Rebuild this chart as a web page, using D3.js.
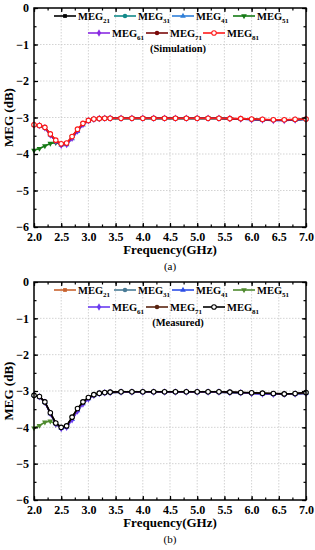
<!DOCTYPE html>
<html>
<head>
<meta charset="utf-8">
<script src="https://cdn.jsdelivr.net/npm/d3@7"></script>
<style>
  body { margin: 0; background: #fff; }
  svg { display: block; font-family: "Liberation Serif", "Times New Roman", serif; font-weight: bold; }
</style>
</head>
<body>
<svg id="chart" width="315" height="550"></svg>
<script>
//
// Data
//

var freq = [2.0, 2.1, 2.2, 2.3, 2.4, 2.5, 2.6, 2.7, 2.8, 2.9, 3.0, 3.1, 3.2, 3.3, 3.4,
  3.6, 3.8, 4.0, 4.2, 4.4, 4.6, 4.8, 5.0, 5.2, 5.4, 5.6, 5.8, 6.0, 6.2, 6.4, 6.6, 6.8, 7.0]
var names = ['21', '31', '41', '51', '61', '71', '81']
var xTicks = [2.0, 2.5, 3.0, 3.5, 4.0, 4.5, 5.0, 5.5, 6.0, 6.5, 7.0]
var yTicks = [0, -1, -2, -3, -4, -5, -6]

// (a) simulation
var simMeg21 = [-3.21, -3.23, -3.28, -3.47, -3.64, -3.74, -3.72, -3.55, -3.35, -3.18, -3.09, -3.05, -3.04, -3.03, -3.03,
  -3.03, -3.03, -3.03, -3.03, -3.03, -3.03, -3.03, -3.03, -3.03, -3.03, -3.03, -3.04, -3.05, -3.06, -3.07, -3.07, -3.06, -3.05]
var simMeg31 = [-3.20, -3.22, -3.27, -3.46, -3.63, -3.73, -3.71, -3.54, -3.34, -3.17, -3.08, -3.04, -3.03, -3.02, -3.02,
  -3.02, -3.02, -3.02, -3.02, -3.02, -3.02, -3.02, -3.02, -3.02, -3.02, -3.03, -3.04, -3.05, -3.06, -3.07, -3.07, -3.06, -3.05]
var simMeg41 = [-3.20, -3.22, -3.28, -3.47, -3.65, -3.75, -3.74, -3.58, -3.38, -3.20, -3.10, -3.05, -3.03, -3.02, -3.02,
  -3.02, -3.02, -3.02, -3.02, -3.02, -3.02, -3.02, -3.02, -3.02, -3.02, -3.03, -3.04, -3.06, -3.07, -3.08, -3.08, -3.07, -3.05]
var simMeg51 = [-3.90, -3.85, -3.78, -3.71, -3.69, -3.73, -3.71, -3.54, -3.34, -3.17, -3.08, -3.04, -3.03, -3.02, -3.02,
  -3.02, -3.02, -3.02, -3.02, -3.02, -3.02, -3.02, -3.02, -3.02, -3.02, -3.03, -3.04, -3.05, -3.06, -3.07, -3.07, -3.06, -3.05]
var simMeg61 = [-3.20, -3.22, -3.28, -3.48, -3.65, -3.76, -3.74, -3.57, -3.37, -3.19, -3.09, -3.05, -3.03, -3.02, -3.02,
  -3.02, -3.02, -3.02, -3.02, -3.02, -3.02, -3.02, -3.02, -3.02, -3.02, -3.03, -3.04, -3.06, -3.07, -3.08, -3.08, -3.07, -3.05]
var simMeg71 = [-3.20, -3.22, -3.27, -3.46, -3.63, -3.73, -3.71, -3.53, -3.33, -3.17, -3.08, -3.04, -3.03, -3.02, -3.02,
  -3.02, -3.02, -3.02, -3.02, -3.02, -3.02, -3.02, -3.02, -3.02, -3.02, -3.03, -3.04, -3.05, -3.06, -3.07, -3.07, -3.06, -3.04]
var simMeg81 = [-3.20, -3.22, -3.27, -3.45, -3.62, -3.72, -3.70, -3.52, -3.32, -3.16, -3.08, -3.04, -3.03, -3.02, -3.02,
  -3.02, -3.02, -3.02, -3.02, -3.02, -3.02, -3.02, -3.02, -3.02, -3.02, -3.03, -3.03, -3.04, -3.05, -3.06, -3.06, -3.05, -3.04]

// (b) measured
var meaMeg21 = [-3.12, -3.16, -3.31, -3.61, -3.89, -4.01, -3.97, -3.74, -3.50, -3.32, -3.19, -3.11, -3.07, -3.05, -3.04,
  -3.03, -3.03, -3.03, -3.03, -3.03, -3.03, -3.03, -3.03, -3.03, -3.03, -3.04, -3.05, -3.06, -3.07, -3.08, -3.09, -3.08, -3.06]
var meaMeg31 = [-3.12, -3.15, -3.30, -3.60, -3.88, -4.00, -3.97, -3.74, -3.50, -3.32, -3.19, -3.11, -3.07, -3.05, -3.04,
  -3.03, -3.03, -3.03, -3.03, -3.03, -3.03, -3.03, -3.03, -3.03, -3.03, -3.04, -3.05, -3.06, -3.07, -3.08, -3.09, -3.08, -3.06]
var meaMeg41 = [-3.12, -3.16, -3.31, -3.62, -3.90, -4.02, -3.99, -3.78, -3.54, -3.35, -3.21, -3.12, -3.07, -3.05, -3.04,
  -3.03, -3.03, -3.03, -3.03, -3.03, -3.03, -3.03, -3.03, -3.03, -3.03, -3.04, -3.05, -3.06, -3.08, -3.09, -3.09, -3.08, -3.06]
var meaMeg51 = [-4.02, -3.95, -3.86, -3.83, -3.92, -4.01, -3.97, -3.74, -3.50, -3.31, -3.19, -3.11, -3.07, -3.05, -3.04,
  -3.03, -3.03, -3.03, -3.03, -3.03, -3.03, -3.03, -3.03, -3.03, -3.03, -3.04, -3.05, -3.06, -3.07, -3.08, -3.09, -3.08, -3.06]
var meaMeg61 = [-3.12, -3.16, -3.31, -3.62, -3.91, -4.03, -4.00, -3.79, -3.55, -3.36, -3.22, -3.12, -3.07, -3.05, -3.04,
  -3.03, -3.03, -3.03, -3.03, -3.03, -3.03, -3.03, -3.03, -3.03, -3.03, -3.04, -3.05, -3.07, -3.08, -3.09, -3.09, -3.08, -3.06]
var meaMeg71 = [-3.12, -3.15, -3.30, -3.60, -3.88, -4.00, -3.96, -3.73, -3.49, -3.31, -3.18, -3.10, -3.06, -3.04, -3.03,
  -3.02, -3.02, -3.02, -3.02, -3.02, -3.02, -3.02, -3.02, -3.02, -3.02, -3.03, -3.04, -3.05, -3.06, -3.07, -3.08, -3.07, -3.05]
var meaMeg81 = [-3.12, -3.15, -3.30, -3.60, -3.88, -4.00, -3.96, -3.72, -3.48, -3.30, -3.18, -3.10, -3.06, -3.04, -3.03,
  -3.02, -3.02, -3.02, -3.02, -3.02, -3.02, -3.02, -3.02, -3.02, -3.02, -3.03, -3.04, -3.05, -3.06, -3.07, -3.08, -3.07, -3.04]

//
// Styles
//

var simColors = ['#000000', '#138a8a', '#2f7fd8', '#157a15', '#8a2be2', '#7a0a0a', '#ff1a1a']
var meaColors = ['#c8622e', '#4a7b96', '#2d4ee6', '#4f8a2f', '#6a3cf0', '#5a2410', '#000000']
var shapes = ['square', 'circle', 'triangle', 'triangleDown', 'diamond', 'circle', 'open']

var svg = d3.select('#chart')
var left = 34, right = 306

var x = d3.scaleLinear().domain([2, 7]).range([left, right])

function symbolFor(shape) {
  if (shape === 'square') return d3.symbol(d3.symbolSquare, 14)
  if (shape === 'triangle') return d3.symbol(d3.symbolTriangle, 14)
  if (shape === 'triangleDown') return d3.symbol(d3.symbolTriangle, 14)
  if (shape === 'diamond') return d3.symbol(d3.symbolDiamond, 16)
  return d3.symbol(d3.symbolCircle, 16)
}

function drawMarker(g, shape, color, px, py) {
  var m = g.append('path')
    .attr('d', symbolFor(shape)())
    .attr('transform', 'translate(' + px + ',' + py + ')' + (shape === 'triangleDown' ? ' rotate(180)' : ''))
  if (shape === 'open') {
    m.attr('fill', '#fff').attr('stroke', color).attr('stroke-width', 1.1)
  } else {
    m.attr('fill', color)
  }
}

function drawPanel(top, bottom, series, colors, note, caption) {
  var y = d3.scaleLinear().domain([-6, 0]).range([bottom, top])
  var g = svg.append('g')

  // grid
  g.append('g').selectAll('line').data(xTicks.slice(1, -1)).join('line')
    .attr('x1', d => x(d)).attr('x2', d => x(d)).attr('y1', top).attr('y2', bottom)
    .attr('stroke', '#c8c8c8').attr('stroke-width', 0.8).attr('stroke-dasharray', '1.5,1.5')
  g.append('g').selectAll('line').data(yTicks.slice(1, -1)).join('line')
    .attr('x1', left).attr('x2', right).attr('y1', d => y(d)).attr('y2', d => y(d))
    .attr('stroke', '#c8c8c8').attr('stroke-width', 0.8).attr('stroke-dasharray', '1.5,1.5')

  // curves
  var line = d3.line().x((d, i) => x(freq[i])).y(d => y(d))
  series.forEach(function (s, k) {
    g.append('path').datum(s).attr('d', line)
      .attr('fill', 'none').attr('stroke', colors[k]).attr('stroke-width', 1.6)
    s.forEach(function (v, i) {
      drawMarker(g, shapes[k], colors[k], x(freq[i]), y(v))
    })
  })

  // axes
  var xMinor = d3.range(2, 7.001, 0.25)
  var yMinor = d3.range(-6, 0.001, 0.5)
  var bx = g.append('g').attr('transform', 'translate(0,' + bottom + ')')
    .call(d3.axisBottom(x).tickValues(xTicks).tickFormat(d3.format('.1f')).tickSizeInner(-4).tickSizeOuter(0).tickPadding(5))
  var bx2 = g.append('g').attr('transform', 'translate(0,' + bottom + ')')
    .call(d3.axisBottom(x).tickValues(xMinor).tickFormat('').tickSizeInner(-2.5).tickSizeOuter(0))
  var tx = g.append('g').attr('transform', 'translate(0,' + top + ')')
    .call(d3.axisTop(x).tickValues(xMinor).tickFormat('').tickSizeInner(-2.5).tickSizeOuter(0))
  var tx2 = g.append('g').attr('transform', 'translate(0,' + top + ')')
    .call(d3.axisTop(x).tickValues(xTicks).tickFormat('').tickSizeInner(-4).tickSizeOuter(0))
  var ly = g.append('g').attr('transform', 'translate(' + left + ',0)')
    .call(d3.axisLeft(y).tickValues(yTicks).tickFormat(d3.format('d')).tickSizeInner(-4).tickSizeOuter(0).tickPadding(5))
  var ly2 = g.append('g').attr('transform', 'translate(' + left + ',0)')
    .call(d3.axisLeft(y).tickValues(yMinor).tickFormat('').tickSizeInner(-2.5).tickSizeOuter(0))
  var ry = g.append('g').attr('transform', 'translate(' + right + ',0)')
    .call(d3.axisRight(y).tickValues(yTicks).tickFormat('').tickSizeInner(-4).tickSizeOuter(0))
  var ry2 = g.append('g').attr('transform', 'translate(' + right + ',0)')
    .call(d3.axisRight(y).tickValues(yMinor).tickFormat('').tickSizeInner(-2.5).tickSizeOuter(0))
  ;[bx, bx2, tx, tx2, ly, ly2, ry, ry2].forEach(function (a) {
    a.select('.domain').remove()
    a.selectAll('line').attr('stroke', '#000').attr('stroke-width', 1.2)
    a.selectAll('text').attr('fill', '#000')
      .style('font-family', '"Liberation Serif", serif').style('font-weight', 'bold').style('font-size', '12px')
  })
  g.append('rect').attr('x', left).attr('y', top).attr('width', right - left).attr('height', bottom - top)
    .attr('fill', 'none').attr('stroke', '#000').attr('stroke-width', 1.5)

  // axis titles
  g.append('text').attr('x', (left + right) / 2).attr('y', bottom + 27).attr('text-anchor', 'middle')
    .attr('font-size', 13).text('Frequency(GHz)')
  g.append('text').attr('transform', 'translate(13,' + ((top + bottom) / 2) + ') rotate(-90)')
    .attr('text-anchor', 'middle').attr('font-size', 13).text('MEG (dB)')
  g.append('text').attr('x', (left + right) / 2).attr('y', bottom + 43).attr('text-anchor', 'middle')
    .attr('font-size', 11).attr('font-weight', 'normal').text(caption)

  // legend
  var legPos = [[54, 8], [114, 8], [172, 8], [233, 8], [88, 25], [146, 25], [203, 25]]
  names.forEach(function (n, k) {
    var lx = legPos[k][0], ly0 = top + legPos[k][1]
    g.append('line').attr('x1', lx).attr('x2', lx + 22).attr('y1', ly0).attr('y2', ly0)
      .attr('stroke', colors[k]).attr('stroke-width', 1.6)
    drawMarker(g, shapes[k], colors[k], lx + 11, ly0)
    var t = g.append('text').attr('x', lx + 24).attr('y', ly0 + 4).attr('font-size', 10.5)
    t.append('tspan').text('MEG')
    t.append('tspan').attr('font-size', 7).attr('dy', 2.5).text(n)
  })
  g.append('text').attr('x', 178).attr('y', top + 44).attr('text-anchor', 'middle')
    .attr('font-size', 10.5).text(note)
}

drawPanel(8, 227, [simMeg21, simMeg31, simMeg41, simMeg51, simMeg61, simMeg71, simMeg81], simColors, '(Simulation)', '(a)')
drawPanel(282, 500, [meaMeg21, meaMeg31, meaMeg41, meaMeg51, meaMeg61, meaMeg71, meaMeg81], meaColors, '(Measured)', '(b)')
</script>
</body>
</html>
